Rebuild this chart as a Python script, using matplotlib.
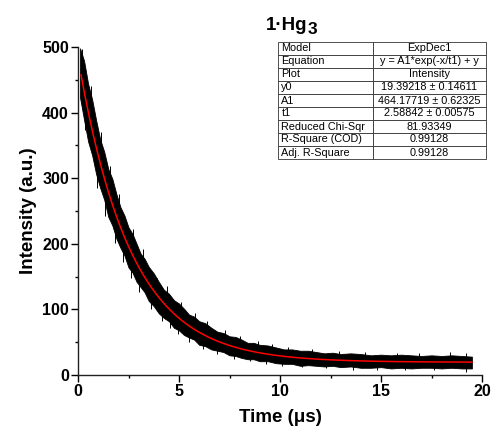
import numpy as np
import matplotlib
matplotlib.use("Agg")
import matplotlib.pyplot as plt

plt.rcParams['font.family'] = ['Liberation Sans', 'DejaVu Sans']

t = [0.1, 0.3, 0.5, 0.7, 0.9, 1.1, 1.3, 1.5, 1.7, 1.9, 2.1, 2.3, 2.5, 2.7, 2.9,
     3.1, 3.3, 3.5, 3.75, 4.0, 4.25, 4.5, 4.75, 5.0, 5.25, 5.5, 5.75, 6.0, 6.3,
     6.6, 6.9, 7.2, 7.5, 7.8, 8.1, 8.4, 8.7, 9.0, 9.4, 9.8, 10.2, 10.6, 11.0,
     11.4, 11.8, 12.2, 12.6, 13.0, 13.5, 14.0, 14.5, 15.0, 15.5, 16.0, 16.5,
     17.0, 17.5, 18.0, 18.5, 19.0, 19.5]
upper = [498, 479, 444, 420, 388, 359, 340, 314, 299, 276, 256, 243, 225, 215, 200,
         185, 177, 165, 155, 142, 130, 124, 114, 109, 101, 92, 89, 82, 79,
         72, 66, 64, 59, 58, 54, 49, 49, 46, 45, 42, 39, 39, 37,
         37, 35, 33, 34, 32, 33, 32, 30, 31, 30, 31, 30,
         29, 30, 29, 30, 29, 28]
lower = [423, 389, 356, 335, 306, 285, 267, 241, 228, 208, 194, 182, 164, 156, 142,
         134, 126, 113, 105, 94, 87, 82, 72, 68, 61, 57, 54, 46, 44,
         39, 37, 35, 30, 29, 26, 24, 24, 21, 21, 18, 17, 17, 14,
         15, 14, 13, 14, 12, 13, 11, 11, 12, 10, 11, 10,
         11, 11, 10, 11, 10, 10]

# single spikes sticking out of the band (time, tip value)
spike_up_t = [0.2, 0.65, 1.15, 1.6, 2.05, 2.7, 3.2, 3.9, 4.4, 5.1, 5.8, 6.4,
              7.3, 8.0, 8.9, 9.6, 10.4, 11.6, 12.9, 14.2, 15.8, 16.9, 18.4, 19.2]
spike_up_y = [497, 440, 370, 318, 276, 222, 192, 148, 135, 112, 95, 82,
              68, 60, 52, 47, 43, 39, 36, 35, 34, 33, 35, 33]
spike_dn_t = [0.35, 0.95, 1.35, 1.83, 2.23, 2.6, 3.0, 3.6, 4.15, 4.55, 4.95, 5.5,
              6.2, 6.9, 7.7, 8.5, 9.3, 10.1, 11.1, 12.3, 13.6, 14.8, 16.2, 17.6, 19.2]
spike_dn_y = [373, 285, 243, 201, 172, 148, 126, 100, 82, 72, 62, 51,
              40, 32, 25, 21, 17, 14, 12, 10, 8, 7, 7, 7, 5]

# ExpDec1 fit parameters from the table
y0 = 19.39218
A1 = 464.17719
t1 = 2.58842

rows = ["Model", "Equation", "Plot", "y0", "A1", "t1",
        "Reduced Chi-Sqr", "R-Square (COD)", "Adj. R-Square"]
vals = ["ExpDec1", "y = A1*exp(-x/t1) + y", "Intensity",
        "19.39218 \u00b1 0.14611", "464.17719 \u00b1 0.62325", "2.58842 \u00b1 0.00575",
        "81.93349", "0.99128", "0.99128"]


def fit(x):
    return y0 + A1*np.exp(-np.asarray(x)/t1)


fig = plt.figure(figsize=(4.95, 4.41), dpi=100)
ax = fig.add_axes([78/495, 66/441, 404/495, 328/441])

ax.fill_between(t, lower, upper, color='black', lw=0.6, edgecolor='black')
ax.vlines(spike_up_t, fit(spike_up_t), spike_up_y, color='black', lw=0.7)
ax.vlines(spike_dn_t, spike_dn_y, fit(spike_dn_t), color='black', lw=0.7)
xf = np.linspace(0.15, 19.5, 400)
ax.plot(xf, fit(xf), color='red', lw=1.1)

ax.set_xlim(0, 20)
ax.set_ylim(0, 500)
ax.set_xticks([0, 5, 10, 15, 20])
ax.set_yticks([0, 100, 200, 300, 400, 500])
ax.set_xticks(np.arange(2.5, 20, 5), minor=True)
ax.set_yticks(np.arange(50, 500, 100), minor=True)
for s in ['top', 'right']:
    ax.spines[s].set_visible(False)
for s in ['left', 'bottom']:
    ax.spines[s].set_linewidth(1.0)
    ax.spines[s].set_color('#222222')
ax.tick_params(which='major', length=5, width=1, labelsize=11.5, pad=1.5)
ax.tick_params(which='minor', length=2.5, width=1)
for lab in ax.get_xticklabels() + ax.get_yticklabels():
    lab.set_fontweight('bold')

ax.set_xlabel("Time (\u03bcs)", fontsize=13.5, fontweight='bold', labelpad=7)
ax.set_ylabel("Intensity (a.u.)", fontsize=13.5, fontweight='bold', labelpad=4)

# title 1·Hg3 with a lowered 3
ttl = fig.text(266/495, 1 - 30/441, "1\u00b7Hg", fontsize=13.5, fontweight='bold',
               ha='left', va='baseline')
fig.canvas.draw()
bb = ttl.get_window_extent()
fig.text((bb.x1 + 0.5)/495, 1 - 34/441, "3", fontsize=12.5, fontweight='bold',
         ha='left', va='baseline')

cells = [[r, v] for r, v in zip(rows, vals)]
tb = ax.table(cellText=cells, cellLoc='center',
              bbox=[200/404, (375-159)/328, 208/404, 117/328],
              colWidths=[95/208, 113/208])
tb.auto_set_font_size(False)
for (i, j), c in tb.get_celld().items():
    c.set_linewidth(0.6)
    c.set_edgecolor('#333333')
    c.get_text().set_fontsize(7.8)
    c.PAD = 0.035
    if j == 0:
        c.get_text().set_ha('left')
    else:
        c.get_text().set_ha('center')
tb.set_clip_on(False)

fig.savefig("out.png", dpi=100)
